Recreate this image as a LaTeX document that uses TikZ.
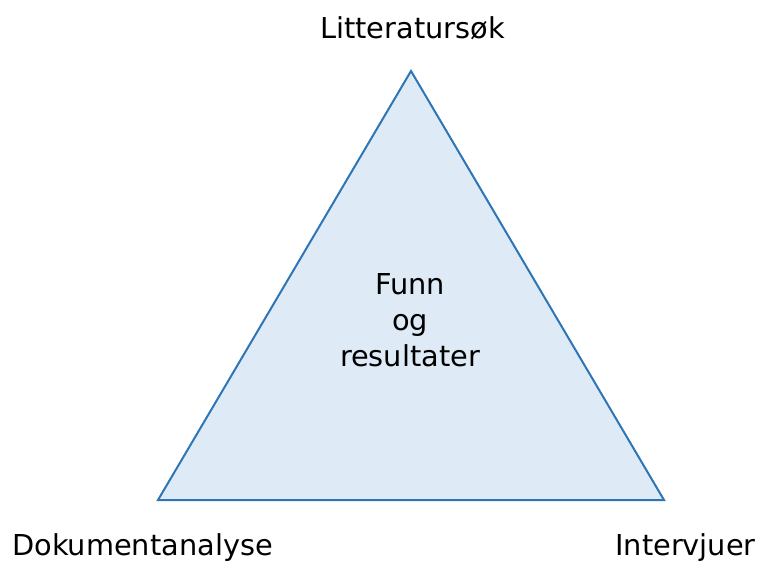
\documentclass[tikz,border=0pt]{standalone}
\usepackage{fontspec}
\setmainfont{DejaVu Sans}
\usetikzlibrary{positioning}

\definecolor{triline}{HTML}{2E75B6}
\definecolor{trifill}{HTML}{DEEBF7}

\tikzset{
  label text/.style={anchor=base,inner sep=0pt,font=\fontsize{21.6}{27}\selectfont},
}

\begin{document}
\begin{tikzpicture}[x=0.75pt,y=-0.75pt]
\useasboundingbox (0,0) rectangle (763,564);
\coordinate (top) at (411,71);
\coordinate (left) at (158,500);
\coordinate (right) at (664,500);
\draw[triline,fill=trifill,line width=1.5pt,line join=miter] (top) -- (left) -- (right) -- cycle;

\node[label text] (litt) at (412.5,38) {Litteratursøk};
\node[label text] (dok) at (142.5,555) {Dokumentanalyse};
\node[label text] (intv) at (685.5,555) {Intervjuer};
% base of a multi-line node sits on its last line
\node[label text,align=center] (funn) at (410,366) {Funn\\og\\resultater};
\end{tikzpicture}
\end{document}
